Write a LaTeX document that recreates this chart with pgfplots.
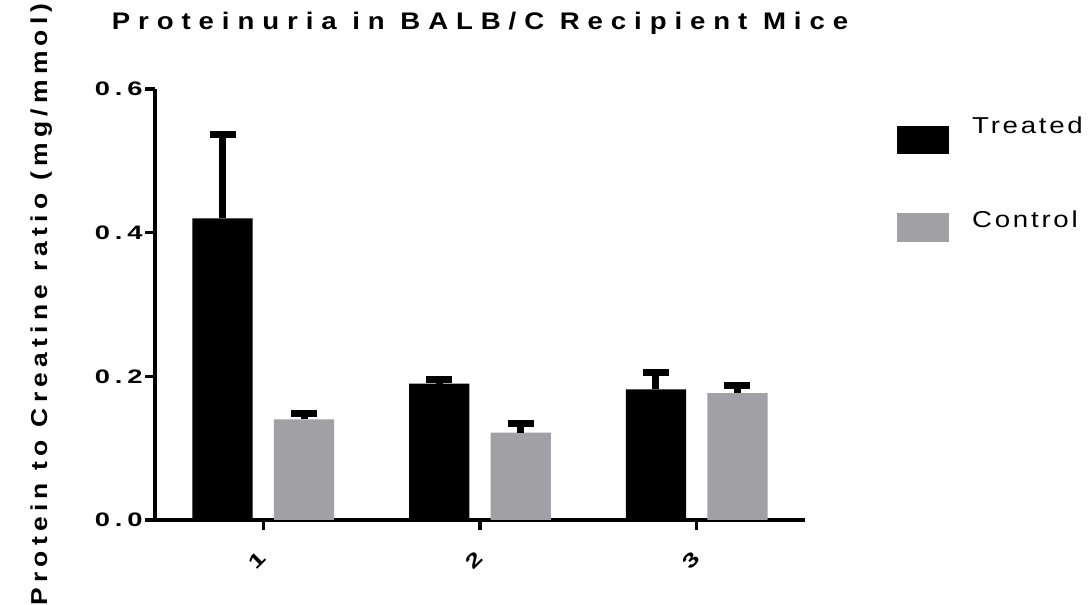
\documentclass[border=0pt]{standalone}
\usepackage{pgfplots}
\pgfplotsset{compat=1.18}
\usepackage{fontspec}
\setmainfont{Liberation Sans}
\newfontfamily\ttlfont[LetterSpace=33,FakeStretch=1.15]{Liberation Sans}
\newfontfamily\ylbfont[LetterSpace=23,FakeStretch=1.15]{Liberation Sans}
\newfontfamily\tckfont[LetterSpace=25,FakeStretch=1.4]{Liberation Sans}
\newfontfamily\lgdfont[LetterSpace=12,FakeStretch=1.2]{Liberation Sans}
\definecolor{ctrl}{RGB}{160,160,165}
\begin{document}
\begin{tikzpicture}[x=1bp,y=1bp]
\useasboundingbox (0,0) rectangle (1091,605);
\begin{axis}[
  at={(155bp,85bp)}, anchor=south west,
  scale only axis, width=650bp, height=431bp,
  xmin=0.5, xmax=3.5, ymin=0, ymax=0.6,
  ybar, bar width=0.278,
  axis x line=bottom, axis y line=left,
  axis line style={-, line width=3.5bp, black},
  tick align=outside, major tick length=10bp,
  tick style={line width=3.5bp, black},
  xtick={1,2,3}, xticklabels={1,2,3},
  ytick={0,0.2,0.4,0.6}, yticklabels={0.0,0.2,0.4,0.6},
  tick label style={font=\tckfont\bfseries\fontsize{19.5bp}{19.5bp}\selectfont},
  xticklabel style={anchor=center, xshift=-6bp, yshift=-30bp, rotate=45},
  yticklabel style={anchor=east, xshift=1bp},
  title={\ttlfont\bfseries\fontsize{24bp}{24bp}\selectfont Proteinuria in BALB/C Recipient Mice},
  title style={at={(axis description cs:0.500,1.123)}, anchor=base, inner sep=0pt},
  ylabel={\ylbfont\bfseries\fontsize{23bp}{23bp}\selectfont Protein to Creatine ratio (mg/mmol)},
  ylabel style={at={(axis description cs:-0.175,0.5)}, anchor=center, inner sep=0pt},
  legend style={at={(axis description cs:1.1415,0.935)}, anchor=north west, draw=none, fill=none,
    inner sep=0pt, row sep=75bp, column sep=75bp,
    font=\lgdfont\fontsize{23bp}{23bp}\selectfont, nodes={inner sep=0pt}},
  legend cell align=left,
  clip=false,
]
\addplot[fill=black, draw=none, bar shift=-0.188,
  legend image code/.code={\fill[black,overlay] (0bp,-27.7bp) rectangle (52bp,0.3bp);},
  error bars/.cd, y dir=plus, y explicit,
  error bar style={line width=7bp, black},
  error mark options={rotate=90, mark size=13bp, line width=7bp, black}]
  coordinates {(1,0.420) +- (0,0.117) (2,0.190) +- (0,0.005) (3,0.182) +- (0,0.024)};
\addlegendentry{Treated}
\addplot[fill=ctrl, draw=none, bar shift=0.188,
  legend image code/.code={\fill[ctrl,overlay] (0bp,-23bp) rectangle (52bp,6bp);},
  error bars/.cd, y dir=plus, y explicit,
  error bar style={line width=7bp, black},
  error mark options={rotate=90, mark size=13bp, line width=7bp, black}]
  coordinates {(1,0.140) +- (0,0.008) (2,0.1216) +- (0,0.0124) (3,0.1765) +- (0,0.0105)};
\addlegendentry{Control}
\end{axis}
\end{tikzpicture}
\end{document}
